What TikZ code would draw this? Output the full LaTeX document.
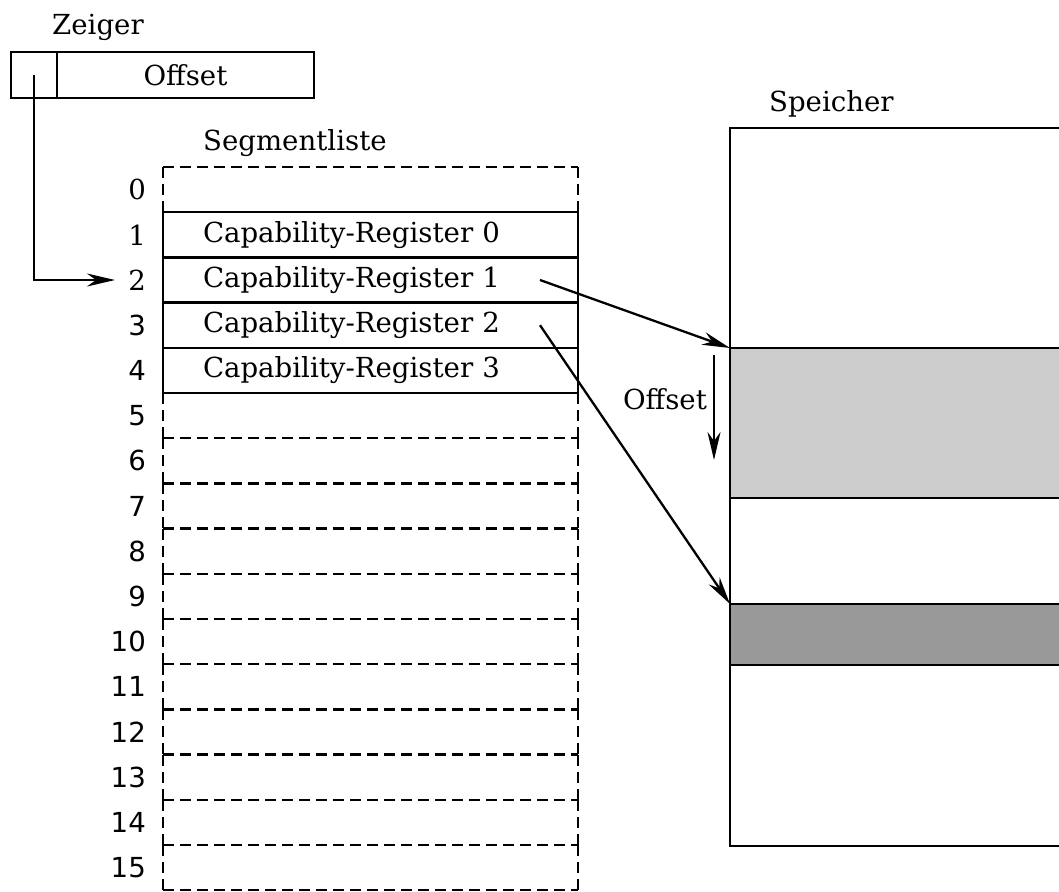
\documentclass[tikz,border=0pt]{standalone}
\usepackage{fontspec}
\setmainfont{DejaVu Serif}
\newfontfamily\sansnum{DejaVu Sans}
\usetikzlibrary{arrows.meta, positioning, calc}
\tikzstyle{lbl} = [inner sep=0pt, font=\fontsize{13.8}{16}\selectfont]
\tikzstyle{num} = [inner sep=0pt, anchor=east, font=\fontsize{13.8}{16}\selectfont]
\tikzstyle{cell} = [rectangle, outer sep=0pt, minimum width=207.5pt, minimum height=22.6pt, text width=167.5pt, inner xsep=20pt, inner ysep=0pt, align=left, font=\fontsize{13.8}{16}\selectfont]
\tikzstyle{ptrbox} = [rectangle, draw, outer sep=0pt, minimum height=23pt, inner sep=0pt, font=\fontsize{13.8}{16}\selectfont]
\tikzstyle{memblock} = [rectangle, draw, outer sep=0pt, anchor=north west, minimum width=172.5pt, inner sep=0pt]
\tikzstyle{dashline} = [dash pattern=on 5.5pt off 3pt]
\tikzstyle{arrow} = [-{Stealth[length=14pt, width=6.5pt, inset=4.5pt]}]

\begin{document}
\begin{tikzpicture}[x=0.5pt, y=-0.5pt, line width=1.15pt]
\useasboundingbox (0,0) rectangle (1059,891);
\clip (0,0) rectangle (1059,891);

% Zeiger
\node (sel) [ptrbox, minimum width=23pt, anchor=north west] at (11,52) {};
\node (off) [ptrbox, minimum width=128.5pt, right=0pt of sel] {Offset};
\node (zlbl) [lbl, above right=5pt and -3pt of sel.north east] {Zeiger};

% Segmentliste
\node (r0) [cell] at (370.5,189.6) {};
\foreach \i/\t [count=\j from 1] in {0/Capability-Register 0, 1/Capability-Register 1, 2/Capability-Register 2, 3/Capability-Register 3}
  \node (r\j) [cell, below=0pt of r\i] {\t};
\foreach \i [count=\j from 5] in {4,...,14}
  \node (r\j) [cell, below=0pt of r\i] {};
\node (slist) [lbl, above right=4.5pt and 19.5pt of r0.north west] {Segmentliste};

\foreach \i in {0,1,2}
  \node (n\i) [num] at ($(r\i.west)+(-16,0)$) {\i};
\foreach \i in {3,...,15}
  \node (n\i) [num] at ($(r\i.west)+(-16,0)$) {\sansnum\i};

\draw[dashline] (r0.north west) -- (r0.north east);
\draw[dashline] (r0.north west) -- (r0.south west);
\draw[dashline] (r0.north east) -- (r0.south east);
\foreach \i in {5,...,15} {
  \draw[dashline] (r\i.north west) -- (r\i.south west);
  \draw[dashline] (r\i.north east) -- (r\i.south east);
}
\foreach \i in {6,...,15}
  \draw[dashline] (r\i.north west) -- (r\i.north east);
\draw[dashline] (r15.south west) -- (r15.south east);
\foreach \i in {1,...,4}
  \draw (r\i.north west) rectangle (r\i.south east);

% Speicher
\node (mem) [memblock, minimum height=359pt] at (730,128) {};
\node (seg1) [memblock, fill=black!20, minimum height=75pt] at (730,348) {};
\node (seg2) [memblock, fill=black!40, minimum height=30.5pt] at (730,604) {};
\node (slbl) [lbl, above right=5pt and 19pt of mem.north west] {Speicher};

% Pfeile
\coordinate (ptr) at ($(r2.west)+(-48,0)$);
\draw[arrow] (sel.center) |- (ptr);
\draw[arrow] ($(r2.east)+(-38,0)$) -- (seg1.north west);
\draw[arrow] ($(r3.east)+(-38,0)$) -- (seg2.north west);
\draw[arrow] ($(seg1.north west)+(-16,7)$) -- node (offl) [lbl, left=3pt, pos=0.42] {Offset} ++(0,105);
\end{tikzpicture}
\end{document}
